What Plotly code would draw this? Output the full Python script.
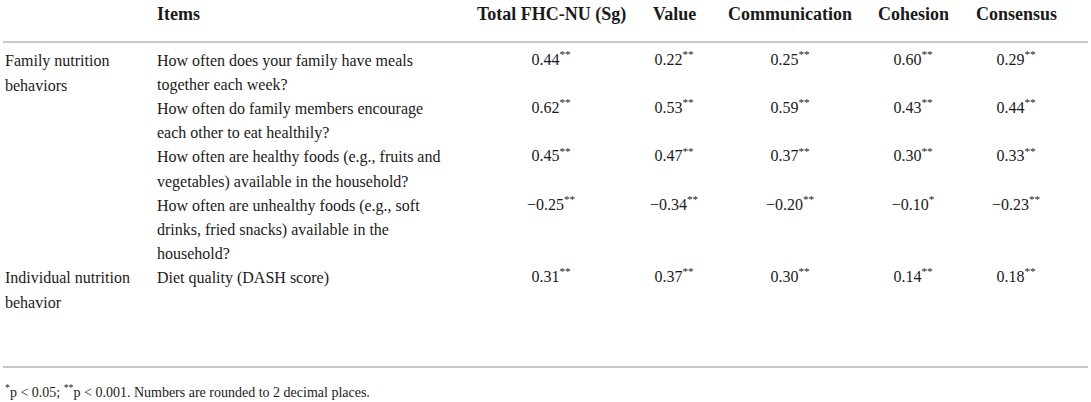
import plotly.graph_objects as go

# ---- data ----
headers = ["Items", "Total FHC-NU (Sg)", "Value", "Communication", "Cohesion", "Consensus"]
groups = ["Family nutrition<br>behaviors", "Individual nutrition<br>behavior"]
group_rows = [0, 4]
items = [
    "How often does your family have meals<br>together each week?",
    "How often do family members encourage<br>each other to eat healthily?",
    "How often are healthy foods (e.g., fruits and<br>vegetables) available in the household?",
    "How often are unhealthy foods (e.g., soft<br>drinks, fried snacks) available in the<br>household?",
    "Diet quality (DASH score)",
]
total_fhc = [0.44, 0.62, 0.45, -0.25, 0.31]
value = [0.22, 0.53, 0.47, -0.34, 0.37]
communication = [0.25, 0.59, 0.37, -0.20, 0.30]
cohesion = [0.60, 0.43, 0.30, -0.10, 0.14]
consensus = [0.29, 0.44, 0.33, -0.23, 0.18]
stars_total = ["**", "**", "**", "**", "**"]
stars_value = ["**", "**", "**", "**", "**"]
stars_comm = ["**", "**", "**", "**", "**"]
stars_coh = ["**", "**", "**", "*", "**"]
stars_cons = ["**", "**", "**", "**", "**"]
footnote = "<sup>*</sup>p < 0.05; <sup>**</sup>p < 0.001. Numbers are rounded to 2 decimal places."

# ---- layout constants ----
W, H = 1091, 402
FONT = "Liberation Serif"
TXT = "#1a1a1a"
col_x = [551, 674, 790, 913, 1016]
x_group, x_item = 3, 155
y_header = 14
y_first = 61
line_h = 24.1
y_top_rule, y_bot_rule = 42, 367
y_foot = 391

columns = [total_fhc, value, communication, cohesion, consensus]
stars = [stars_total, stars_value, stars_comm, stars_coh, stars_cons]

fig = go.Figure()
ann = []

# header
ann.append(dict(x=x_item, y=y_header, text="<b>%s</b>" % headers[0], xanchor="left",
                font=dict(size=18)))
for cx, h in zip(col_x, headers[1:]):
    ann.append(dict(x=cx, y=y_header, text="<b>%s</b>" % h, xanchor="center", font=dict(size=18)))

# row start line indices
row_lines = [len(s.split("<br>")) for s in items]
row_start = []
acc = 0
for n in row_lines:
    row_start.append(acc)
    acc += n

def ly(i):
    return y_first + line_h * i

# items
for r, s in enumerate(items):
    for j, part in enumerate(s.split("<br>")):
        ann.append(dict(x=x_item, y=ly(row_start[r] + j), text=part, xanchor="left"))

# groups
for g, r in zip(groups, group_rows):
    for j, part in enumerate(g.split("<br>")):
        ann.append(dict(x=x_group, y=ly(row_start[r] + j), text=part, xanchor="left"))

# values as text traces through axes
for cx, vals, st in zip(col_x, columns, stars):
    texts = [("%.2f" % v).replace("-", "\u2212") + "<sup>%s</sup>" % s for v, s in zip(vals, st)]
    fig.add_trace(go.Scatter(
        x=[cx] * len(vals), y=[ly(row_start[r]) for r in range(len(vals))],
        mode="text", text=texts, textposition="middle center",
        textfont=dict(family=FONT, size=16, color=TXT), hoverinfo="skip", showlegend=False))

# footnote
ann.append(dict(x=x_group, y=y_foot, text=footnote, xanchor="left", font=dict(size=14)))

for a in ann:
    a.setdefault("font", {})
    a["font"].setdefault("size", 16)
    a["font"]["family"] = FONT
    a["font"]["color"] = TXT
    a.update(xref="x", yref="y", yanchor="middle", showarrow=False)

shapes = [
    dict(type="line", xref="x", yref="y", x0=3, x1=1088, y0=y_top_rule, y1=y_top_rule,
         line=dict(color="#c8c8c8", width=2)),
    dict(type="line", xref="x", yref="y", x0=3, x1=1088, y0=y_bot_rule, y1=y_bot_rule,
         line=dict(color="#c8c8c8", width=2)),
]

fig.update_layout(
    width=W, height=H, margin=dict(l=0, r=0, t=0, b=0),
    paper_bgcolor="white", plot_bgcolor="white",
    xaxis=dict(range=[0, W], visible=False, fixedrange=True),
    yaxis=dict(range=[H, 0], visible=False, fixedrange=True),
    annotations=ann, shapes=shapes,
)

fig.write_html("out.html", config={"displayModeBar": False})

# remove default page margin so the figure fills the window exactly
with open("out.html", "r", encoding="utf-8") as f:
    html = f.read()
html = html.replace("<head>", "<head><style>html,body{margin:0;padding:0;overflow:hidden;}</style>", 1)
with open("out.html", "w", encoding="utf-8") as f:
    f.write(html)
